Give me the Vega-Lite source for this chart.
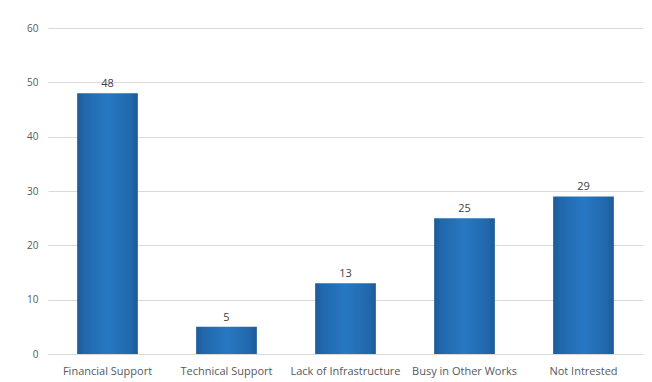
{
  "$schema": "https://vega.github.io/schema/vega-lite/v6.json",
  "width": 595,
  "height": 326,
  "padding": {"left": 48, "top": 28, "right": 9, "bottom": 28},
  "autosize": {"type": "none"},
  "background": "white",
  "config": {
    "view": {"stroke": null},
    "font": "Open Sans"
  },
  "data": {
    "values": [
      {"category": "Financial Support", "value": 48},
      {"category": "Technical Support", "value": 5},
      {"category": "Lack of Infrastructure", "value": 13},
      {"category": "Busy in Other Works", "value": 25},
      {"category": "Not Intrested", "value": 29}
    ]
  },
  "encoding": {
    "x": {
      "field": "category",
      "type": "nominal",
      "sort": null,
      "scale": {"paddingInner": 0.49, "paddingOuter": 0.245},
      "axis": {
        "title": null,
        "labelAngle": 0,
        "domain": false,
        "ticks": false,
        "labelFont": "Open Sans",
        "labelFontSize": 11,
        "labelColor": "#595959",
        "labelPadding": 11
      }
    },
    "y": {
      "field": "value",
      "type": "quantitative",
      "scale": {"domain": [0, 60]},
      "axis": {
        "title": null,
        "values": [0, 10, 20, 30, 40, 50, 60],
        "domain": false,
        "ticks": false,
        "gridColor": "#d9d9d9",
        "gridWidth": 1,
        "labelFont": "Open Sans",
        "labelFontSize": 10,
        "labelColor": "#595959",
        "labelPadding": 10
      }
    }
  },
  "layer": [
    {
      "mark": {
        "type": "bar",
        "color": {
          "gradient": "linear",
          "x1": 0, "x2": 1, "y1": 0, "y2": 0,
          "stops": [
            {"offset": 0, "color": "#1c5a96"},
            {"offset": 0.12, "color": "#2168ac"},
            {"offset": 0.5, "color": "#2778c2"},
            {"offset": 0.88, "color": "#2168ac"},
            {"offset": 1, "color": "#1c5a96"}
          ]
        }
      }
    },
    {
      "mark": {"type": "text", "dy": -9, "font": "Open Sans", "fontSize": 11, "color": "#404040"},
      "encoding": {"text": {"field": "value", "type": "quantitative"}}
    }
  ]
}
